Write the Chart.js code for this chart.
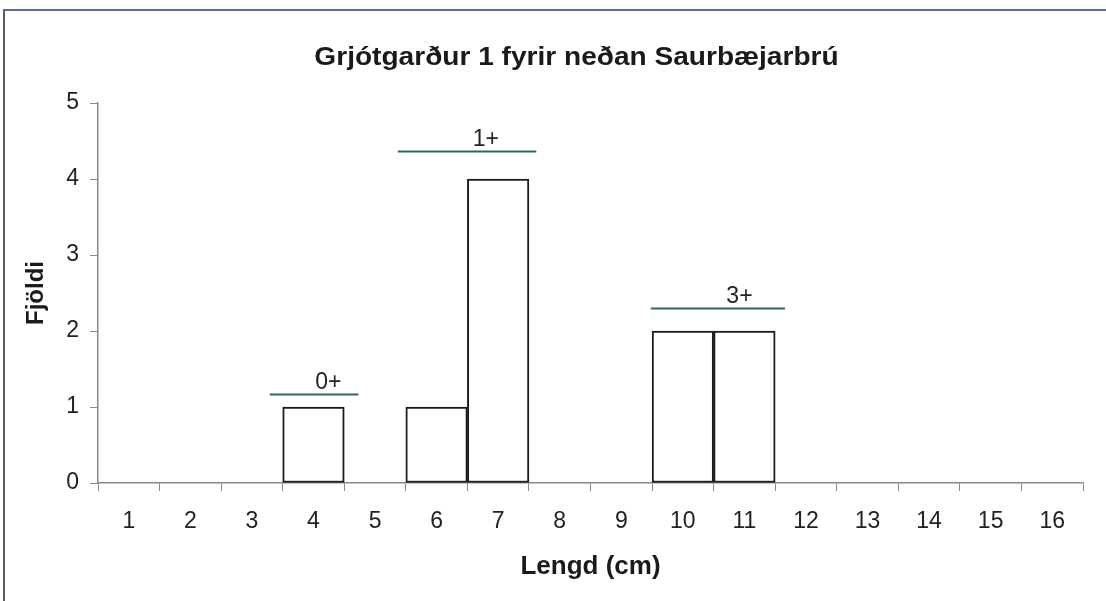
<!DOCTYPE html>
<html>
<head>
<meta charset="utf-8">
<script src="https://cdn.jsdelivr.net/npm/chart.js@4"></script>
<style>
  html, body { margin: 0; padding: 0; background: #fff; }
  #wrap { position: relative; width: 1106px; height: 601px; overflow: hidden; }
  /* scanned frame: only top and left edges visible */
  #frame { position: absolute; left: 3px; top: 9px; width: 1200px; height: 700px;
           border-top: 2px solid #56709a; border-left: 2px solid #5a5f5a; }
  canvas { position: absolute; left: 0; top: 0; }
</style>
</head>
<body>
<div id="wrap">
  <div id="frame"></div>
  <canvas id="chart" width="1106" height="601"></canvas>
</div>
<script>
const lengths = ['1', '2', '3', '4', '5', '6', '7', '8', '9', '10', '11', '12', '13', '14', '15', '16'];
const counts = [0, 0, 0, 1, 0, 1, 4, 0, 0, 2, 2, 0, 0, 0, 0, 0];
const yTicks = [0, 1, 2, 3, 4, 5];

// age groups drawn as lines over the bars (in cm along the length axis)
const groupNames = ['0+', '1+', '3+'];
const groupFrom = [3.29, 5.37, 9.48];
const groupTo = [4.73, 7.62, 11.66];
const groupLevel = [1.17, 4.37, 2.30];
const groupTextAt = [4.24, 6.80, 10.92];

const FONT = '"Liberation Sans", Arial, sans-serif';
const titleText = 'Grjótgarður 1 fyrir neðan Saurbæjarbrú';

const groupPlugin = {
  id: 'groups',
  afterDatasetsDraw(chart) {
    const ctx = chart.ctx;
    const x = chart.scales.x, y = chart.scales.y;
    ctx.save();
    ctx.strokeStyle = '#2e6a5c';
    ctx.lineWidth = 2;
    ctx.fillStyle = '#222';
    ctx.font = '23px ' + FONT;
    ctx.textAlign = 'center';
    ctx.textBaseline = 'bottom';
    groupNames.forEach((name, i) => {
      const yp = Math.round(y.getPixelForValue(groupLevel[i])) + 0.5;
      ctx.beginPath();
      ctx.moveTo(x.getPixelForValue(groupFrom[i] - 1), yp);
      ctx.lineTo(x.getPixelForValue(groupTo[i] - 1), yp);
      ctx.stroke();
      ctx.fillText(name, x.getPixelForValue(groupTextAt[i] - 1), yp);
    });
    ctx.restore();
  }
};

const titlePlugin = {
  id: 'topTitle',
  afterDraw(chart) {
    const ctx = chart.ctx;
    const a = chart.chartArea;
    ctx.save();
    ctx.translate((a.left + a.right) / 2 - 14, 58);
    ctx.scale(1.08, 1);
    ctx.fillStyle = '#1a1a1a';
    ctx.font = 'bold 26px ' + FONT;
    ctx.textAlign = 'center';
    ctx.textBaseline = 'middle';
    ctx.fillText(titleText, 0, 0);
    ctx.restore();
  }
};

new Chart(document.getElementById('chart'), {
  type: 'bar',
  data: {
    labels: lengths,
    datasets: [{
      data: counts,
      backgroundColor: '#ffffff',
      borderColor: '#1c1c1c',
      borderWidth: 2,
      borderSkipped: false,
      barPercentage: 1,
      categoryPercentage: 1
    }]
  },
  options: {
    responsive: false,
    animation: false,
    devicePixelRatio: 1,
    layout: { padding: { top: 103, right: 23, left: 0, bottom: 0 } },
    plugins: {
      legend: { display: false },
      tooltip: { enabled: false },
      title: { display: false }
    },
    scales: {
      x: {
        afterFit(scale) { scale.height = 118; },
        grid: { drawOnChartArea: false, tickLength: 8, color: '#8a8a80', lineWidth: 1 },
        border: { color: '#8a8a80', width: 1.5 },
        ticks: { color: '#222', font: { size: 23, family: FONT }, padding: 17, maxRotation: 0, autoSkip: false },
        title: { display: true, text: 'Lengd (cm)', color: '#1a1a1a',
                 font: { size: 26, weight: 'bold', family: FONT }, padding: { top: 0, bottom: 19 } }
      },
      y: {
        min: 0,
        max: 5,
        afterFit(scale) { scale.width = 98; },
        afterBuildTicks(scale) { scale.ticks = yTicks.map(v => ({ value: v })); },
        grid: { drawOnChartArea: false, tickLength: 8, color: '#8a8a80', lineWidth: 1 },
        border: { color: '#8a8a80', width: 1.5 },
        ticks: { color: '#222', font: { size: 23, family: FONT }, padding: 11 },
        title: { display: true, text: 'Fjöldi', color: '#1a1a1a',
                 font: { size: 24, weight: 'bold', family: FONT }, padding: { top: 22, bottom: 0 } }
      }
    }
  },
  plugins: [groupPlugin, titlePlugin]
});
</script>
</body>
</html>
